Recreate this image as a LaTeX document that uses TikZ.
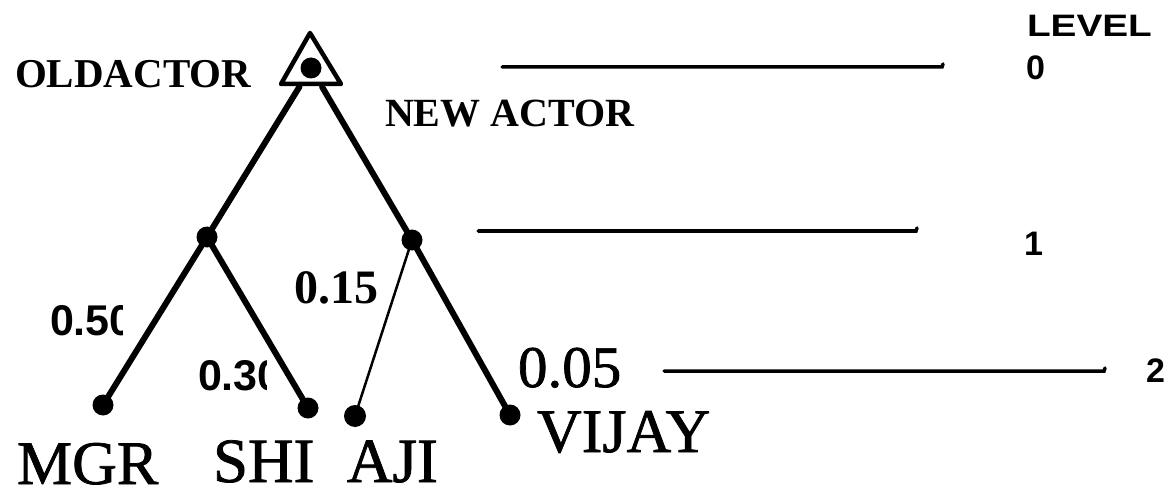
\documentclass[tikz,border=0pt]{standalone}
\usepackage{fontspec}
\setmainfont{Liberation Serif}
\newfontfamily\sansf{Liberation Sans}
\newfontfamily\heavyserif[FakeBold=1.2]{Liberation Serif}
\usetikzlibrary{calc}
\tikzset{
  dot/.style={circle,fill=black,inner sep=0pt,minimum size=21pt},
  treeline/.style={line width=6pt,line cap=round},
  thinline/.style={line width=2.5pt},
  levelline/.style={line width=3.5pt,line cap=round},
  txt/.style={anchor=base west,inner sep=0pt,outer sep=0pt},
}
\newcommand{\fsz}[1]{\fontsize{#1}{#1}\selectfont}
\begin{document}
\begin{tikzpicture}[x=1pt,y=-1pt]
\useasboundingbox (0,0) rectangle (1175,497);
% nodes of the tree
\node[dot] (root) at (311,68) {};
\node[dot] (L1) at (207,237) {};
\node[dot] (R1) at (412,240) {};
\node[dot] (mgr) at (103,405) {};
\node[dot] (shi) at (308,408) {};
\node[dot,minimum size=22pt] (aji) at (355,416) {};
\node[dot] (vijay) at (510,415) {};
% triangle round the root
\draw[line width=4.5pt,line join=round] (310,33) -- (341,84) -- (281,84) -- cycle;
% edges
\draw[treeline] ($(root)!0.11!(L1)$) -- (L1.center);
\draw[treeline] ($(root)!0.11!(R1)$) -- (R1.center);
\draw[treeline] (L1.center) -- (mgr.center);
\draw[treeline] (L1.center) -- (shi.center);
\draw[treeline] (R1.center) -- (vijay.center);
\draw[thinline] (R1.center) -- (aji.center);
% level lines
\coordinate (a0) at (502,67); \coordinate (b0) at (942,67);
\coordinate (a1) at (478,231); \coordinate (b1) at (916,231);
\coordinate (a2) at (664,371); \coordinate (b2) at (1104,371);
\draw[levelline] (a0) -- (b0) -- ++(1,-3);
\draw[levelline] (a1) -- (b1) -- ++(1,-3);
\draw[levelline] (a2) -- (b2) -- ++(1,-3);
% labels
\node[txt] (old) at (15,88) {\fsz{41}\bfseries OLDACTOR};
\node[txt] (new) at (385,127) {\fsz{40}\bfseries NEW ACTOR};
\begin{scope}
  \clip (40,290) rectangle (122,345);
  \node[txt] (w1) at (50,335) {\sansf\fsz{43}\bfseries 0.50};
\end{scope}
\begin{scope}
  \clip (190,345) rectangle (266,400);
  \node[txt] (w2) at (198,390) {\sansf\fsz{43}\bfseries 0.30};
\end{scope}
\node[txt] (w3) at (294,303) {\fsz{48}\bfseries 0.15};
\node[txt] (w4) at (518,387) {\heavyserif\fsz{59}0.05};
\node[txt] (nmgr) at (17,484) {\heavyserif\fsz{62}MGR};
\node[txt] (nshi) at (213,482) {\heavyserif\fsz{63}SHI};
\node[txt] (naji) at (347,482) {\heavyserif\fsz{63}AJI};
\node[txt] (nvij) at (537,452) {\heavyserif\fsz{62}VIJAY};
\node[txt] (lev) at (1027,37) {\sansf\fsz{31}\bfseries\scalebox{1.25}[1]{LEVEL}};
\node[txt] (l0) at (1026,80) {\sansf\fsz{34}\bfseries 0};
\node[txt] (l1) at (1024,255) {\sansf\fsz{34}\bfseries 1};
\node[txt] (l2) at (1146,382) {\sansf\fsz{34}\bfseries 2};
\end{tikzpicture}
\end{document}
